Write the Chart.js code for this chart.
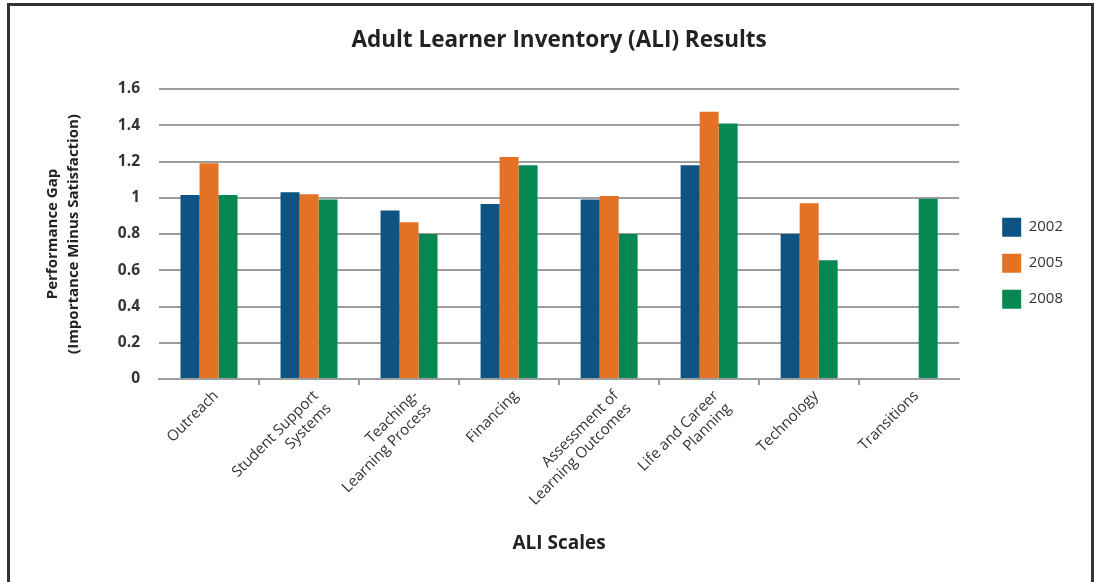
<html>
<head>
  <script src="https://cdn.jsdelivr.net/npm/chart.js@4.4.1/dist/chart.umd.min.js"></script>
  <style>
    body { margin: 0; background: #fff; }
    #wrap { position: relative; width: 1095px; height: 582px; }
    #frame {
      position: absolute; left: 7px; top: 3px; width: 1087px; height: 600px;
      box-sizing: border-box; border: 3px solid #333; border-bottom: none;
      pointer-events: none;
    }
  </style>
</head>
<body>
  <div id="wrap">
    <canvas id="chart" width="1095" height="582"></canvas>
    <div id="frame"></div>
  </div>

  <script>
    // ALI scales and performance gap per survey year
    var scales = [
      "Outreach",
      ["Student Support", "Systems"],
      ["Teaching-", "Learning Process"],
      "Financing",
      ["Assessment of", "Learning Outcomes"],
      ["Life and Career", "Planning"],
      "Technology",
      "Transitions"
    ];
    var gap2002 = [1.015, 1.03, 0.93, 0.965, 0.99, 1.18, 0.80, null];
    var gap2005 = [1.19, 1.02, 0.865, 1.225, 1.01, 1.475, 0.97, null];
    var gap2008 = [1.015, 0.99, 0.80, 1.18, 0.80, 1.41, 0.655, 0.995];
    var yTickLabels = ["0", "0.2", "0.4", "0.6", "0.8", "1", "1.2", "1.4", "1.6"];

    var fontFamily = "'Open Sans', sans-serif";
    var gray = "#9d9d9d";

    var ctx = document.getElementById("chart").getContext("2d");
    var chart = new Chart(ctx, {
      type: "bar",
      data: {
        labels: scales,
        datasets: [
          { label: "2002", data: gap2002, backgroundColor: "#0e5381" },
          { label: "2005", data: gap2005, backgroundColor: "#e47225" },
          { label: "2008", data: gap2008, backgroundColor: "#078853" }
        ]
      },
      options: {
        responsive: false,
        animation: false,
        categoryPercentage: 0.57,
        barPercentage: 1.0,
        layout: { padding: { left: 10, right: 22, top: 0, bottom: 0 } },
        plugins: {
          tooltip: { enabled: false },
          title: {
            display: true,
            fullSize: false,
            text: "Adult Learner Inventory (ALI) Results",
            color: "#222",
            font: { family: fontFamily, size: 22.5, weight: "bold", lineHeight: 1.2 },
            padding: { top: 27.5, bottom: 34.5 }
          },
          legend: {
            position: "right",
            fullSize: false,
            align: "center",
            title: {
              display: true,
              text: " ",
              font: { size: 12 },
              padding: { top: 22, bottom: 22 }
            },
            labels: {
              boxWidth: 19,
              boxHeight: 19,
              padding: 17,
              color: "#333",
              font: { family: fontFamily, size: 15 }
            }
          }
        },
        scales: {
          x: {
            grid: {
              display: true,
              drawOnChartArea: false,
              drawTicks: true,
              tickLength: 6,
              lineWidth: 2,
              color: function(c) { return c.index > 0 ? gray : "transparent"; }
            },
            border: { display: true, color: gray, width: 2 },
            ticks: {
              autoSkip: false,
              minRotation: 45,
              maxRotation: 45,
              padding: 2,
              labelOffset: 7,
              color: "#333",
              font: { family: fontFamily, size: 15 }
            },
            title: {
              display: true,
              text: "ALI Scales",
              color: "#222",
              font: { family: fontFamily, size: 19, weight: "bold", lineHeight: 1.2 },
              padding: { top: 0, bottom: 27.5 }
            },
            afterFit: function(s) { s.height = 203; }
          },
          y: {
            min: 0,
            max: 1.6,
            ticks: {
              stepSize: 0.2,
              padding: 19,
              color: "#333",
              font: { family: fontFamily, size: 15.5, weight: "bold" },
              callback: function(v, i) { return yTickLabels[i]; }
            },
            grid: { color: gray, lineWidth: 2, drawTicks: false },
            border: { display: false },
            title: {
              display: true,
              text: ["Performance Gap", "(Importance Minus Satisfaction)"],
              color: "#222",
              font: { family: fontFamily, size: 15, weight: "bold", lineHeight: 1.4 },
              padding: { top: 32.5, bottom: 0 }
            },
            afterFit: function(s) { s.width = 149; }
          },
          // empty spacer between the plot and the legend
          spacer: {
            type: "linear",
            position: "right",
            display: true,
            grid: { display: false },
            border: { display: false },
            ticks: { display: false },
            afterFit: function(s) { s.width = 26; }
          }
        }
      }
    });
  </script>
</body>
</html>
